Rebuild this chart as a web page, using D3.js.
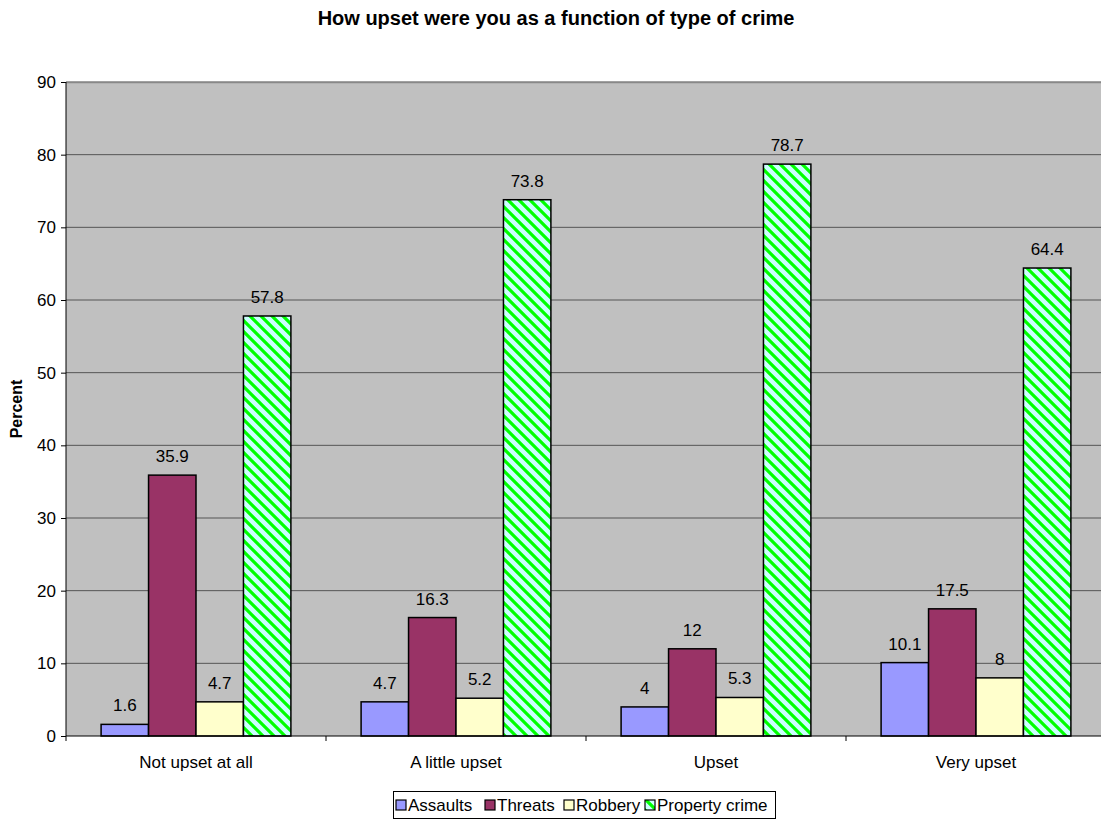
<!DOCTYPE html>
<html><head><meta charset="utf-8">
<script src="https://cdn.jsdelivr.net/npm/d3@7"></script>
<style>body{margin:0;background:#fff}svg{display:block;font-family:Arial,"Liberation Sans",sans-serif}</style>
</head><body><svg id="c" width="1101" height="820"></svg>
<script>
const categories = ["Not upset at all","A little upset","Upset","Very upset"];
const seriesNames = ["Assaults","Threats","Robbery","Property crime"];
const assaults = [1.6,4.7,4,10.1];
const threats = [35.9,16.3,12,17.5];
const robbery = [4.7,5.2,5.3,8];
const property = [57.8,73.8,78.7,64.4];
const yTicks = [0,10,20,30,40,50,60,70,80,90];
const series = [assaults,threats,robbery,property];
const fills = ["#9999FF","#993366","#FFFFCC","url(#hatch)"];

const svg = d3.select("#c");
const defs = svg.append("defs");
const pat = defs.append("pattern").attr("id","hatch").attr("patternUnits","userSpaceOnUse")
  .attr("width",11).attr("height",11);
pat.append("rect").attr("width",11).attr("height",11).attr("fill","#CCFFFF");
pat.append("path").attr("d","M-3,-3 L14,14 M-3,8 L3,14 M8,-3 L14,3").attr("stroke","#00FF00").attr("stroke-width",3.2);

const L=66, T=82, B=736, R=1106;
const x = d3.scaleBand().domain(categories).range([L,R]).paddingInner(0.27).paddingOuter(0.135);
const xOuter = d3.scaleBand().domain(categories).range([L,R]);
const xs = d3.scaleBand().domain(seriesNames).range([0,x.bandwidth()]);
const y = d3.scaleLinear().domain([0,90]).range([B,T]);

svg.append("rect").attr("x",L).attr("y",T).attr("width",R-L).attr("height",B-T).attr("fill","#C0C0C0");
svg.append("g").selectAll("line").data(yTicks.slice(1)).join("line")
  .attr("x1",L).attr("x2",R).attr("y1",d=>y(d)).attr("y2",d=>y(d)).attr("stroke","#555").attr("stroke-width",1);
svg.append("line").attr("x1",L).attr("x2",R).attr("y1",T+0.5).attr("y2",T+0.5).attr("stroke","#888").attr("stroke-width",1.5);

series.forEach((vals,si)=>{
  const g = svg.append("g");
  g.selectAll("rect").data(vals).join("rect")
    .attr("x",(d,i)=>x(categories[i])+xs(seriesNames[si]))
    .attr("width",xs.bandwidth())
    .attr("y",d=>y(d)).attr("height",d=>B-y(d))
    .attr("fill",fills[si]).attr("stroke","#000").attr("stroke-width",1.5);
  g.selectAll("text").data(vals).join("text")
    .attr("x",(d,i)=>x(categories[i])+xs(seriesNames[si])+xs.bandwidth()/2)
    .attr("y",d=>y(d)-13).attr("text-anchor","middle").attr("font-size",17).attr("fill","#000")
    .text(d=>d);
});

// y axis
const ya = svg.append("g").attr("transform",`translate(${L},0)`)
  .call(d3.axisLeft(y).tickValues(yTicks).tickSize(5).tickPadding(5).tickFormat(d3.format("d")));
ya.select(".domain").attr("stroke","#000").attr("d",`M0,${T}V${B}`);
ya.selectAll("line").attr("stroke","#000");
ya.selectAll("text").attr("font-size",17).attr("font-family","Arial,'Liberation Sans',sans-serif").attr("fill","#000");

// x axis
svg.append("line").attr("x1",L).attr("x2",R).attr("y1",B).attr("y2",B).attr("stroke","#000").attr("stroke-width",1);
svg.append("g").selectAll("line").data(categories).join("line")
  .attr("x1",d=>xOuter(d)).attr("x2",d=>xOuter(d)).attr("y1",B).attr("y2",B+5).attr("stroke","#000");
svg.append("g").selectAll("text").data(categories).join("text")
  .attr("x",d=>xOuter(d)+xOuter.bandwidth()/2).attr("y",B+32).attr("text-anchor","middle")
  .attr("font-size",17).text(d=>d);

svg.append("text").attr("x",556).attr("y",25).attr("text-anchor","middle").attr("font-size",20)
  .attr("font-weight","bold").text("How upset were you as a function of type of crime");
svg.append("text").attr("transform","translate(22,409) rotate(-90)").attr("text-anchor","middle")
  .attr("font-size",16).attr("font-weight","bold").text("Percent");

// legend
const lg = svg.append("g");
lg.append("rect").attr("x",393.5).attr("y",791.5).attr("width",382).attr("height",27).attr("fill","#fff").attr("stroke","#000");
const lx = [408,497,576,657];
seriesNames.forEach((n,i)=>{
  lg.append("rect").attr("x",lx[i]-12).attr("y",800).attr("width",10).attr("height",10).attr("fill",fills[i]).attr("stroke","#000").attr("stroke-width",1.2);
  lg.append("text").attr("x",lx[i]).attr("y",811).attr("font-size",17).text(n);
});
</script></body></html>
